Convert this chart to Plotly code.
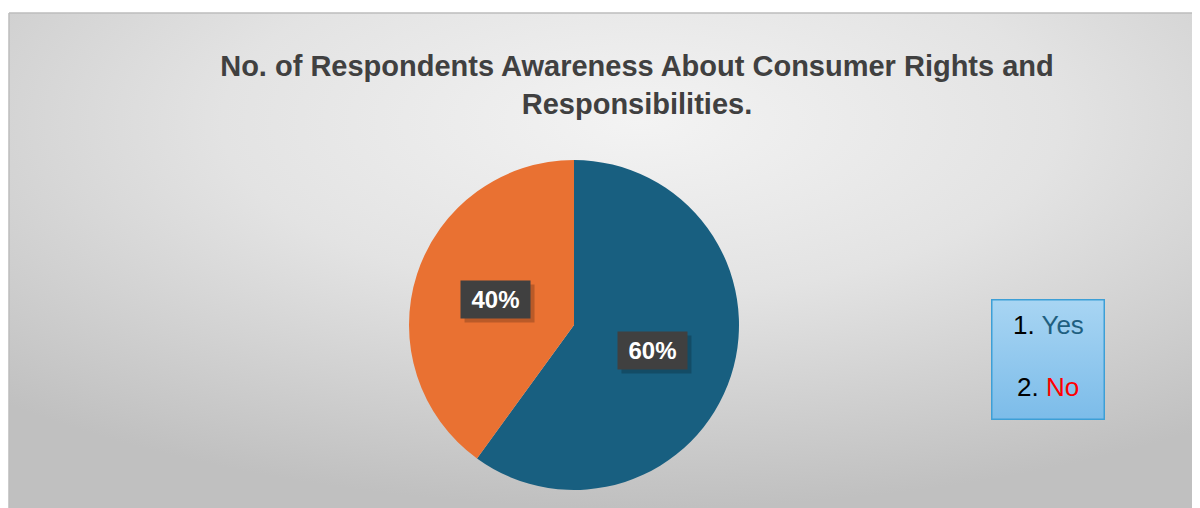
import base64
import math
import plotly.graph_objects as go

# data
labels = ['Yes', 'No']
shares = [60, 40]
slice_colors = ['#185f80', '#e97132']
label_colors = ['#1f5f80', '#ff0000']

title = 'No. of Respondents Awareness About Consumer Rights and<br>Responsibilities.'

# page is 1200x508, the html body keeps an 8px margin
OFF = 8
W, H = 1200 - OFF, 508 - OFF


def fx(px):
    return (px - OFF) / W


def fy(py):
    return (H - (py - OFF)) / H


def svg_uri(svg):
    return 'data:image/svg+xml;base64,' + base64.b64encode(svg.encode()).decode()


# radial grey background for the chart area
bg_uri = svg_uri(
    '<svg xmlns="http://www.w3.org/2000/svg" width="1191" height="495">'
    '<defs><radialGradient id="g" cx="0.53" cy="0.22" r="0.78" fx="0.53" fy="0.22">'
    '<stop offset="0" stop-color="#f3f3f3"/>'
    '<stop offset="0.45" stop-color="#e3e3e3"/>'
    '<stop offset="1" stop-color="#c0c0c0"/>'
    '</radialGradient></defs>'
    '<rect width="1191" height="495" fill="url(#g)"/></svg>')

# light blue box behind the numbered list
box_uri = svg_uri(
    '<svg xmlns="http://www.w3.org/2000/svg" width="114" height="121">'
    '<defs><linearGradient id="b" x1="0" y1="0" x2="0" y2="1">'
    '<stop offset="0" stop-color="#a8d5f3"/>'
    '<stop offset="1" stop-color="#7cbce9"/>'
    '</linearGradient></defs>'
    '<rect x="0.75" y="0.75" width="112.5" height="119.5" fill="url(#b)" '
    'stroke="#3d9fd6" stroke-width="1.5"/></svg>')

dom_x = [fx(409), fx(739)]
dom_y = [fy(490), fy(160)]

fig = go.Figure()
fig.add_trace(go.Pie(
    labels=labels, values=shares, sort=False, direction='clockwise', rotation=0,
    marker=dict(colors=slice_colors, line=dict(width=0)),
    textinfo='none', hoverinfo='label+percent', showlegend=False,
    domain=dict(x=dom_x, y=dom_y),
))

# percent labels in dark boxes, placed half way out along each slice bisector
cx = (dom_x[0] + dom_x[1]) / 2 * W
cy = (dom_y[0] + dom_y[1]) / 2 * H
r = (dom_x[1] - dom_x[0]) * W / 2
total = sum(shares)
shapes = []
start = 0
for v in shares:
    mid = (start + v / 2) / total * 2 * math.pi
    start += v
    px = cx + 0.5 * r * math.sin(mid)
    py = cy + 0.5 * r * math.cos(mid)
    pct = f'{round(v / total * 100)}%'
    # soft shadow under the label box
    shapes.append(dict(type='rect', xref='paper', yref='paper', layer='above',
                       x0=(px - 31) / W, x1=(px + 39) / W,
                       y0=(py - 23) / H, y1=(py + 15) / H,
                       fillcolor='rgba(0,0,0,0.2)', line=dict(width=0)))
    fig.add_annotation(x=px / W, y=py / H, xref='paper', yref='paper',
                       xanchor='center', yanchor='middle',
                       text=f'<b>{pct}</b>', showarrow=False, bgcolor='#404040',
                       font=dict(size=24, color='white', family='Liberation Sans'),
                       width=55, height=23, borderpad=7)

# numbered list on the right
for i, (lab, col, py) in enumerate(zip(labels, label_colors, [325, 387])):
    fig.add_annotation(
        x=fx(1048), y=fy(py), xref='paper', yref='paper', showarrow=False,
        xanchor='center', yanchor='middle',
        text=f'{i + 1}. <span style="color:{col}">{lab}</span>',
        font=dict(size=26, color='black', family='Liberation Sans'),
    )

shapes += [
    dict(type='line', xref='paper', yref='paper', x0=fx(9), x1=1, y0=fy(13),
         y1=fy(13), line=dict(color='#bdbdbd', width=1.5)),
    dict(type='line', xref='paper', yref='paper', x0=fx(9), x1=fx(9), y0=0,
         y1=fy(13), line=dict(color='#bdbdbd', width=1.5)),
]

fig.update_layout(
    width=W, height=H,
    margin=dict(l=0, r=0, t=0, b=0),
    paper_bgcolor='white', plot_bgcolor='white',
    title=dict(text=f'<b>{title}</b>', x=fx(637), xanchor='center',
               y=fy(76), yanchor='top',
               font=dict(size=29, color='#404040', family='Liberation Sans')),
    images=[
        dict(source=bg_uri, xref='paper', yref='paper', x=fx(9), y=fy(13),
             sizex=1 - fx(9), sizey=fy(13), sizing='stretch',
             xanchor='left', yanchor='top', layer='below'),
        dict(source=box_uri, xref='paper', yref='paper', x=fx(991), y=fy(299),
             sizex=fx(1105) - fx(991), sizey=fy(299) - fy(420), sizing='stretch',
             xanchor='left', yanchor='top', layer='below'),
    ],
    shapes=shapes,
)

fig.write_html('out.html')
